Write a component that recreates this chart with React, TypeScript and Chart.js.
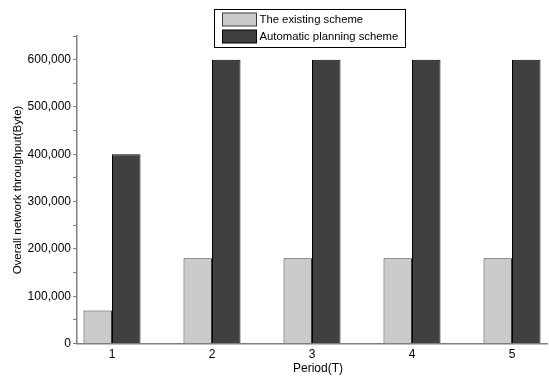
import React, { useEffect, useRef } from "react";
import { Chart, registerables } from "chart.js";

Chart.register(...registerables);

const periods = [1, 2, 3, 4, 5];
const existingScheme = [70000, 180000, 180000, 180000, 180000];
const automaticScheme = [400000, 600000, 600000, 600000, 600000];
const seriesNames = ["The existing scheme", "Automatic planning scheme"];
const xTitle = "Period(T)";
const yTitle = "Overall network throughput(Byte)";

const FONT = "'Liberation Sans', Arial, sans-serif";

const boxLegend = {
  id: "boxLegend",
  afterDraw(chart: any) {
    const ctx = chart.ctx;
    const x = 214.5, y = 9.5, w = 191, h = 38;
    ctx.save();
    ctx.fillStyle = "#ffffff";
    ctx.fillRect(x, y, w, h);
    ctx.strokeStyle = "#000000";
    ctx.lineWidth = 1;
    ctx.strokeRect(x, y, w, h);
    ctx.font = `11.3px ${FONT}`;
    ctx.textBaseline = "middle";
    chart.data.datasets.forEach((ds: any, i: number) => {
      const sy = y + 3.5 + i * 17;
      ctx.fillStyle = ds.backgroundColor;
      ctx.fillRect(x + 8, sy, 34, 13);
      ctx.strokeStyle = ds.borderColor;
      ctx.strokeRect(x + 8, sy, 34, 13);
      ctx.fillStyle = "#000000";
      ctx.fillText(ds.label, x + 45, sy + 7);
    });
    ctx.restore();
  },
};

const axisTitles = {
  id: "axisTitles",
  afterDraw(chart: any) {
    const ctx = chart.ctx;
    ctx.save();
    ctx.fillStyle = "#000000";
    ctx.textAlign = "center";
    ctx.textBaseline = "middle";
    ctx.font = `12px ${FONT}`;
    ctx.fillText(xTitle, 318, 369);
    ctx.translate(18, 190);
    ctx.rotate(-Math.PI / 2);
    ctx.font = `11.5px ${FONT}`;
    ctx.fillText(yTitle, 0, 0);
    ctx.restore();
  },
};

export default function App() {
  const ref = useRef<HTMLCanvasElement>(null);
  useEffect(() => {
    const chart = new Chart(ref.current!, {
      type: "bar",
      data: {
        datasets: [
          {
            label: seriesNames[0],
            data: periods.map((p, i) => ({ x: p, y: existingScheme[i] })),
            backgroundColor: "#cacaca",
            borderColor: "#3a3a3a",
            borderWidth: 1,
          },
          {
            label: seriesNames[1],
            data: periods.map((p, i) => ({ x: p, y: automaticScheme[i] })),
            backgroundColor: "#404040",
            borderColor: "#000000",
            borderWidth: 1,
          },
        ],
      },
      options: {
        animation: false,
        responsive: false,
        maintainAspectRatio: false,
        layout: { padding: { top: 36, right: 2, left: 0, bottom: 0 } },
        datasets: { bar: { categoryPercentage: 0.57, barPercentage: 1, grouped: true } },
        plugins: { legend: { display: false }, tooltip: { enabled: false } },
        scales: {
          x: {
            type: "linear",
            min: 0.65,
            max: 5.35,
            offset: false,
            border: { color: "#808080", width: 1.5 },
            grid: { display: false, drawOnChartArea: false },
            afterBuildTicks: (scale: any) => {
              scale.ticks = periods.map((p) => ({ value: p }));
            },
            ticks: {
              color: "#000000",
              font: { family: FONT, size: 12 },
              padding: -4,
              callback: (v: any) => String(v),
            },
            afterFit: (scale: any) => {
              scale.height = 34.5;
            },
          },
          y: {
            min: 0,
            max: 650000,
            border: { color: "#808080", width: 1.5 },
            grid: { drawOnChartArea: false, tickLength: 4, color: "#808080" },
            ticks: {
              stepSize: 50000,
              color: "#000000",
              font: { family: FONT, size: 12 },
              padding: 2,
              callback: (v: any) =>
                v % 100000 === 0 && v <= 600000 ? Number(v).toLocaleString("en-US") : "",
            },
            afterFit: (scale: any) => {
              scale.width = 77;
            },
          },
        },
      },
      plugins: [boxLegend, axisTitles],
    });
    return () => chart.destroy();
  }, []);
  return (
    <div style={{ position: "absolute", left: 0, top: 0, width: 549, height: 378, background: "#fff" }}>
      <canvas ref={ref} width={549} height={378} style={{ width: 549, height: 378 }} />
    </div>
  );
}
